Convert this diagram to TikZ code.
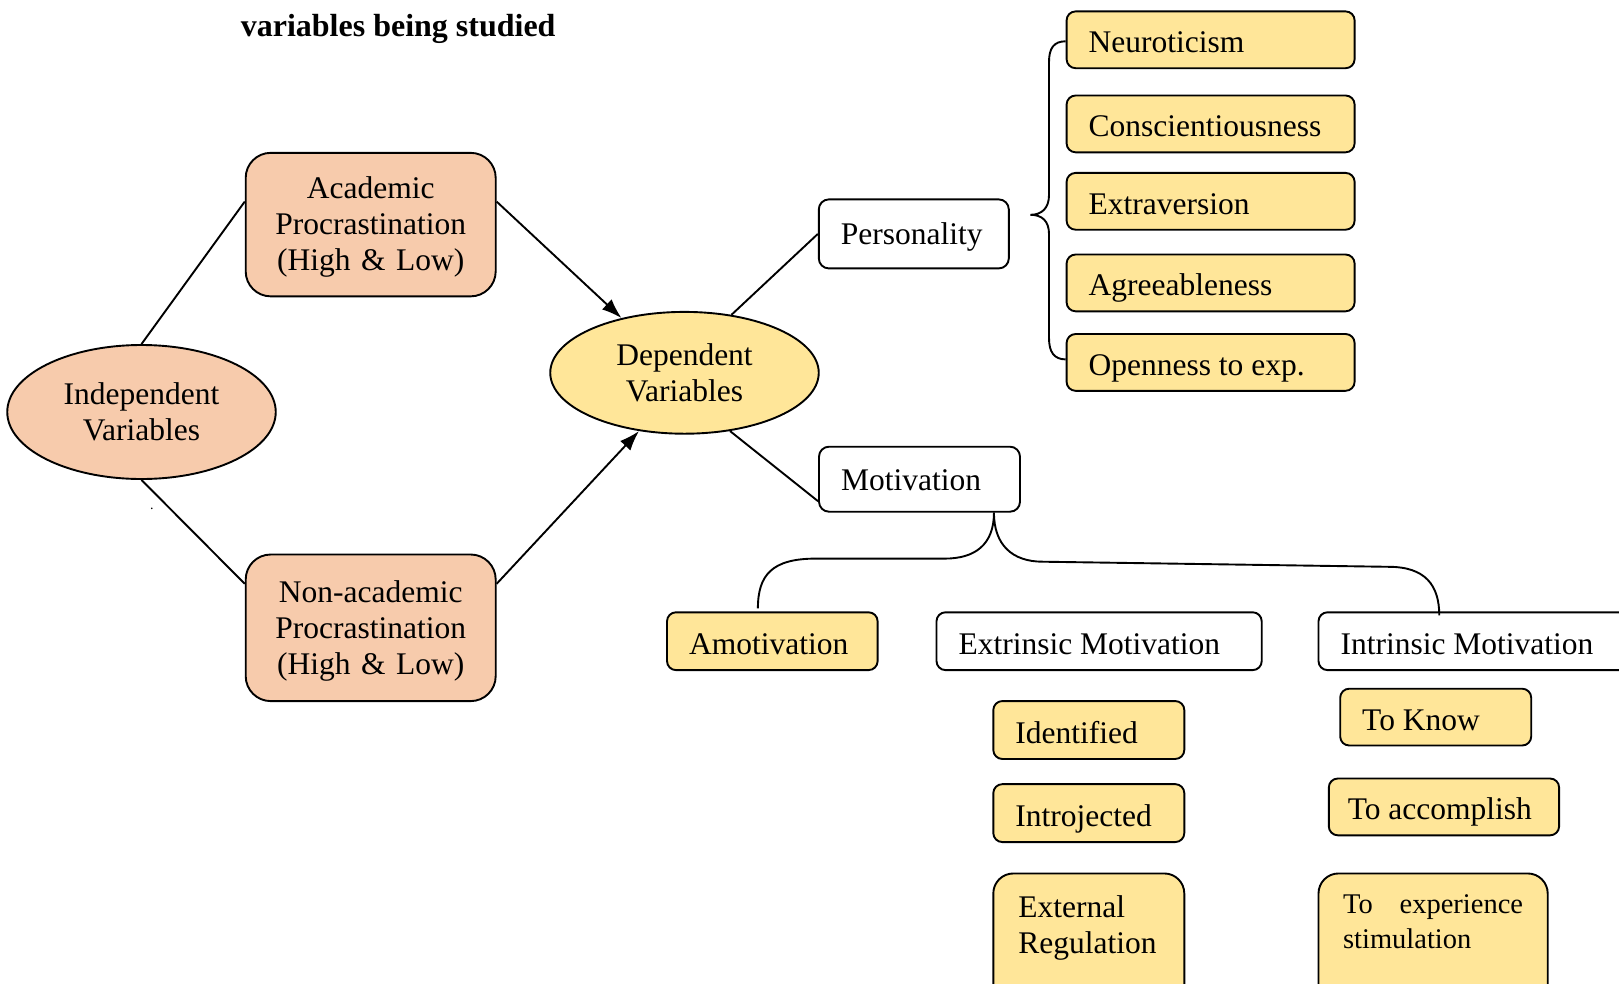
\documentclass[tikz,border=0pt]{standalone}
\usepackage{fontspec}
\setmainfont{Liberation Serif}
\usetikzlibrary{arrows.meta,shapes.geometric,calc}
\definecolor{peach}{HTML}{F7CBAC}
\definecolor{gold}{HTML}{FFE699}
\begin{document}
\begin{tikzpicture}[x=1pt,y=-1pt,
  every node/.style={font=\fontsize{31.5}{36}\selectfont},
  ln/.style={line width=1.9pt},
  arr/.style={line width=1.9pt,-{Latex[length=20pt,width=14pt]}},
  bx/.style={draw, line width=1.9pt, rounded corners=9pt, inner ysep=0pt, inner xsep=22pt, align=flush left, text height=26pt, text depth=0pt},
  ybx/.style={bx, fill=gold},
  wbx/.style={bx, fill=white, rounded corners=10pt, text height=22pt},
  pbx/.style={draw, line width=1.9pt, fill=peach, rounded corners=25pt, inner xsep=22pt, inner ysep=0pt, align=center, text width=206pt, minimum width=250pt, text height=27.5pt},
  ell/.style={draw, line width=1.9pt, ellipse, inner sep=0pt, align=center, minimum width=268.5pt}
]
\useasboundingbox (0,0) rectangle (1619,983);

\node[anchor=base west, font=\bfseries\fontsize{32}{38}\selectfont, inner sep=0pt] (title) at (240.6,36) {variables being studied};

% left part
\node[ell, fill=peach, minimum height=134pt] (ind) at (141.5,412) {Independent\\Variables};
\node[pbx, minimum height=143.5pt] (acad) at (370.7,224.6) {Academic\\Procrastination\\(High \& Low)};
\node[pbx, minimum height=146.6pt] (nonacad) at (370.7,627.8) {Non-academic\\Procrastination\\(High \& Low)};
\node[ell, fill=gold, minimum height=121.8pt] (dep) at (684.5,372.8) {Dependent\\Variables};
\node[font=\fontsize{14}{14}\selectfont, inner sep=0pt] (dot) at (151.8,509) {.};

% personality
\node[wbx, text width=146pt, minimum height=69pt] (pers) at (913.8,233.9) {Personality};
\node[ybx, text width=244pt, minimum height=56.8pt] (neur) at (1210.6,39.8) {Neuroticism};
\node[ybx, text width=244pt, minimum height=56.8pt] (consc) at (1210.6,123.9) {Conscientiousness};
\node[ybx, text width=244pt, minimum height=56.8pt] (extra) at (1210.6,201.3) {Extraversion};
\node[ybx, text width=244pt, minimum height=56.8pt] (agree) at (1210.6,282.9) {Agreeableness};
\node[ybx, text width=244pt, minimum height=56.8pt] (open) at (1210.6,362.4) {Openness to exp.};

% motivation
\node[wbx, text width=157pt, minimum height=65pt] (mot) at (919.5,479.2) {Motivation};
\node[ybx, text width=166.6pt, minimum height=57.8pt] (amot) at (772.3,641.2) {Amotivation};
\node[wbx, rounded corners=9pt, text height=26pt, text width=281.2pt, minimum height=57.8pt] (extr) at (1099.1,641.2) {Extrinsic Motivation};
\node[wbx, rounded corners=9pt, text height=26pt, text width=277.5pt, minimum height=57.8pt] (intr) at (1479.25,641.2) {Intrinsic Motivation};

\node[ybx, text width=147pt, minimum height=57.9pt] (ident) at (1088.8,730) {Identified};
\node[ybx, text width=147pt, minimum height=57.9pt] (intro) at (1088.8,813.1) {Introjected};
\node[ybx, anchor=north, rounded corners=20pt, inner xsep=25pt, text width=141pt, inner ysep=22.7pt, text height=21.5pt, text depth=80pt, font=\fontsize{31.5}{36.3}\selectfont] (ext) at (1088.8,872.5) {External\\Regulation};

\node[ybx, text width=147pt, minimum height=56.8pt] (know) at (1435.7,717.1) {To Know};
\node[ybx, inner xsep=19pt, text width=192.3pt, minimum height=56.8pt] (accomp) at (1443.95,806.9) {To accomplish};
\node[ybx, anchor=north, rounded corners=20pt, inner xsep=24.6pt, text width=180pt, inner ysep=21pt, text height=19.5pt, text depth=80pt, font=\fontsize{28.5}{35}\selectfont] (exper) at (1433.1,872.5) {\hbox to 180pt{To\hfil experience}\\stimulation};

% connectors left
\draw[ln] (ind.north) -- ([yshift=23pt]acad.west);
\draw[ln] (ind.south) -- ([yshift=44pt]nonacad.west);
\draw[arr] ([yshift=23pt]acad.east) -- (dep.139);
\draw[arr] ([yshift=44pt]nonacad.east) -- (dep.-128);
\draw[ln] (dep.51) -- (pers.west);
\draw[ln] (dep.-52) -- ([yshift=-22pt]mot.west);

% brace
\coordinate (btip) at (1030.4,214.8);
\draw[ln] ([yshift=-1.5pt]neur.west) .. controls (1054,41.3) and (1049,48) .. (1049,62) -- (1049,195) .. controls (1049,208) and (1042,214.8) .. (btip) .. controls (1042,214.8) and (1049,221) .. (1049,234) -- (1049,338) .. controls (1049,352) and (1054,359.3) .. ([yshift=3pt]open.west);

% motivation branches
\coordinate (mb) at ([xshift=-27pt]mot.south east);
\draw[ln] (mb) .. controls ([yshift=-32pt]mb) and (975,558.6) .. (944.7,558.6) -- (815.7,558.6) .. controls (772,558.6) and (757.9,575) .. ([xshift=-14.4pt,yshift=3pt]amot.north);
\draw[ln] (mb) .. controls ([yshift=-32pt]mb) and (1012,561.7) .. (1042.8,561.7) -- (1388.7,566.8) .. controls (1425,566.8) and (1439.3,585) .. ([xshift=-40pt,yshift=-4pt]intr.north);
\end{tikzpicture}
\end{document}
